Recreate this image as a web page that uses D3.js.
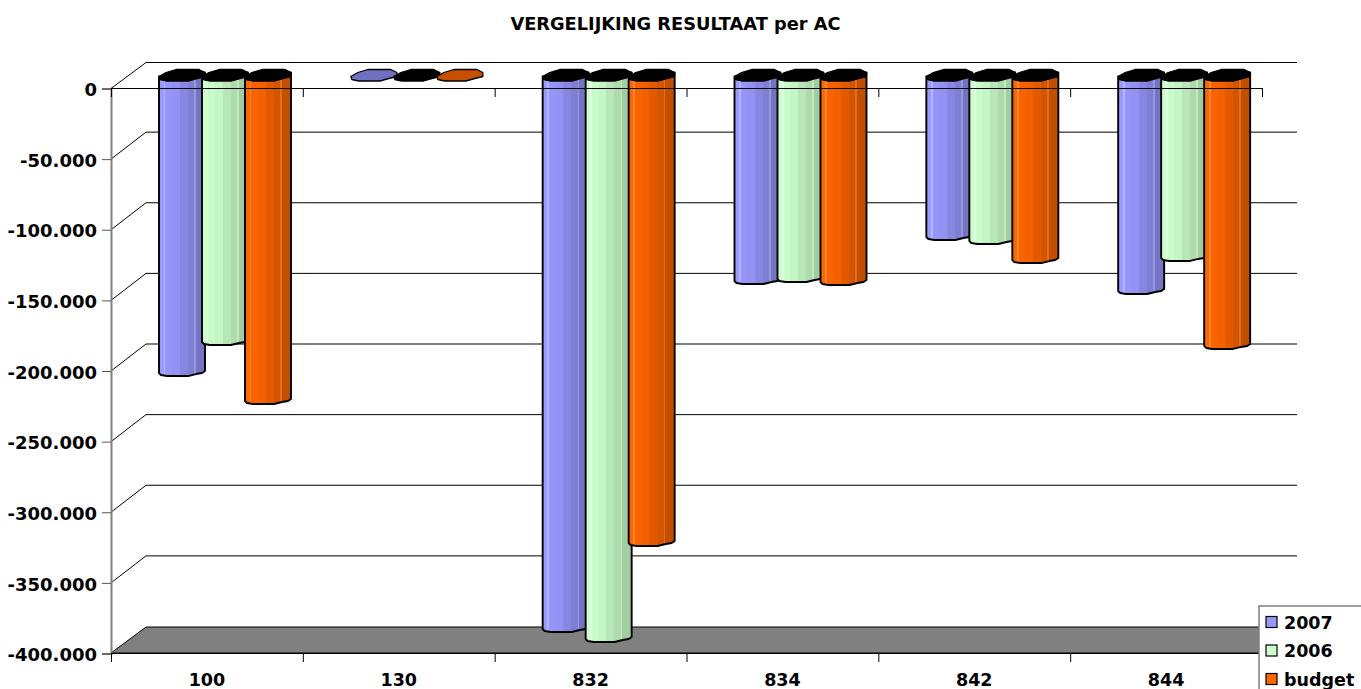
<!DOCTYPE html>
<html><head><meta charset="utf-8">
<script src="https://cdnjs.cloudflare.com/ajax/libs/d3/7.8.5/d3.min.js"></script>
<style>html,body{margin:0;padding:0;background:#fff;overflow:hidden}svg{display:block}
text{font-family:"DejaVu Sans",Verdana,sans-serif;font-weight:bold;fill:#000}</style>
</head><body><svg id="c" width="1361" height="689"></svg>
<script>
const categories = ["100","130","832","834","842","844"];
const seriesNames = ["2007","2006","budget"];
const values2007 = [-209600,-500,-390800,-144400,-113300,-151500];
const values2006 = [-187600,-1000,-397900,-143000,-116100,-128100];
const valuesBudget = [-229400,-500,-329900,-145100,-129600,-190400];
const yTickValues = [0,-50000,-100000,-150000,-200000,-250000,-300000,-350000,-400000];
const seriesColors = [
  {main:"#9999ff",light:"#b4b4ff",dark:"#7474c2",cap:"#7070c0"},
  {main:"#ccffcc",light:"#e0ffe0",dark:"#a2cca2",cap:"#000000"},
  {main:"#ff6600",light:"#ff8838",dark:"#c24e00",cap:"#c65000"}];
const capThreshold = -5000;

const seriesValues = [values2007,values2006,valuesBudget];
const svg = d3.select("#c");
const x = d3.scaleBand().domain(categories).range([111,1262]);
const y = d3.scaleLinear().domain([-400000,0]).range([653,88]);
const inner = d3.scaleBand().domain(seriesNames).range([48,177]);
const dx = 35, dy = -26;
const xL = 111, xR = 1262;

// stepped cylinder gradients
const defs = svg.append("defs");
const bandEdges = [[0,.1,0],[.14,.28,.08],[.28,.45,.2],[.45,.62,.5],[.62,.76,.72],[.8,1,1]];
seriesColors.forEach((c,i)=>{
  const g = defs.append("linearGradient").attr("id","g"+i).attr("x1",0).attr("x2",1).attr("y1",0).attr("y2",0);
  const mix = d3.interpolateRgb(c.main,c.dark);
  const add = (o,col)=>g.append("stop").attr("offset",o).attr("stop-color",col);
  bandEdges.forEach((b,k)=>{
    add(b[0],mix(b[2])); add(b[1],mix(b[2]));
    if(k===0){ add(.1,c.light); add(.14,c.light); }
    if(k===4){ add(.76,d3.interpolateRgb(c.light,c.dark)(.45)); add(.8,d3.interpolateRgb(c.light,c.dark)(.45)); }
  });
});

// back wall gridlines & diagonals
const grid = svg.append("g");
grid.selectAll("path").data(yTickValues).join("path")
  .attr("fill","none").attr("stroke",d=>d===-400000?"none":"#000").attr("stroke-width",1)
  .attr("d",d=>{const o=d===0?dy:dy-1; return `M${xL},${y(d)+.5}L${xL+dx},${y(d)+o+.5}H${xR+dx}`;});

// floor
svg.append("path").attr("fill","#808080").attr("stroke","#000").attr("stroke-width",1)
  .attr("d",`M${xL},${y(-400000)}L${xL+dx},${y(-400000)+dy}H${xR+dx}L${xR},${y(-400000)}Z`);

// y axis
const yAxis = d3.axisLeft(y).tickValues(yTickValues).tickSize(9).tickPadding(5)
  .tickFormat(d3.formatLocale({decimal:",",thousands:".",grouping:[3],currency:["",""],minus:"-"}).format(",d"));
const gy = svg.append("g").attr("transform",`translate(${xL},0.5)`).call(yAxis);
gy.select(".domain").attr("stroke","#808080").attr("stroke-width",2);
gy.selectAll(".tick line").attr("stroke","#555");
gy.selectAll("text").attr("font-size",18).attr("font-family",'"DejaVu Sans"').attr("font-weight","bold").attr("dy","0.4em");

// x axes
const tickBounds = d3.range(categories.length+1).map(i=>xL+i*x.step());
const bottom = svg.append("g");
bottom.append("line").attr("x1",xL).attr("x2",xR).attr("y1",y(-400000)+.5).attr("y2",y(-400000)+.5).attr("stroke","#000");
bottom.selectAll("line.t").data(tickBounds).join("line").attr("class","t")
  .attr("x1",d=>d+.5).attr("x2",d=>d+.5).attr("y1",y(-400000)).attr("y2",y(-400000)+9).attr("stroke","#000");
bottom.selectAll("text").data(categories).join("text")
  .attr("x",d=>x(d)+x.bandwidth()/2).attr("y",686).attr("text-anchor","middle").attr("font-size",17.5).text(d=>d);

const zeroTicks = svg.append("g");
zeroTicks.selectAll("line.t").data(tickBounds).join("line").attr("class","t")
  .attr("x1",d=>d+.5).attr("x2",d=>d+.5).attr("y1",y(0)).attr("y2",y(0)+9).attr("stroke","#000");

// bars (3D cylinders)
const capPath = (a,t)=>`M${a},${t+7}L${a+7},${t+3}L${a+17},${t}H${a+40}L${a+46},${t+3}V${t+7}L${a+38},${t+9}L${a+29},${t+11.5}H${a+8}L${a+1},${t+10}Z`;
seriesNames.forEach((s,i)=>{
  const g = svg.append("g");
  categories.forEach((cat,j)=>{
    const v = seriesValues[i][j];
    const a = x(cat)+inner(s);
    const t = y(0)-18.5;
    const b = y(v)-13+5;
    if (v<capThreshold){
      g.append("path").attr("fill",`url(#g${i})`).attr("stroke","#000").attr("stroke-width",1.9)
       .attr("stroke-linejoin","round")
       .attr("d",`M${a},${t+7}V${b-3}L${a+2},${b-1}L${a+8},${b}H${a+29}L${a+37},${b-2}L${a+43},${b-3}L${a+46},${b-5}V${t+3}Z`);
    }
    g.append("path").attr("fill",v<capThreshold?"#000":seriesColors[i].cap).attr("stroke","#000").attr("stroke-width",1.3)
     .attr("stroke-linejoin","round").attr("d",capPath(a,t));
  });
});

// zero line runs over the bars
svg.append("line").attr("x1",xL).attr("x2",xR).attr("y1",y(0)+.5).attr("y2",y(0)+.5).attr("stroke","#000");

// title
svg.append("text").attr("x",675.5).attr("y",30).attr("text-anchor","middle").attr("font-size",17.8).text("VERGELIJKING RESULTAAT per AC");

// legend
const lg = svg.append("g");
lg.append("rect").attr("x",1259).attr("y",606).attr("width",110).attr("height",100).attr("fill","#fff").attr("stroke","#808080").attr("stroke-width",1.5);
const ly = d3.scalePoint().domain(seriesNames).range([622,679]);
seriesNames.forEach((s,i)=>{
  lg.append("rect").attr("x",1266).attr("y",ly(s)-5.5).attr("width",11).attr("height",11)
    .attr("fill",seriesColors[i].main).attr("stroke","#000").attr("stroke-width",1.2);
  lg.append("text").attr("x",1284).attr("y",ly(s)+6.5).attr("font-size",17.5).text(s);
});
</script></body></html>
